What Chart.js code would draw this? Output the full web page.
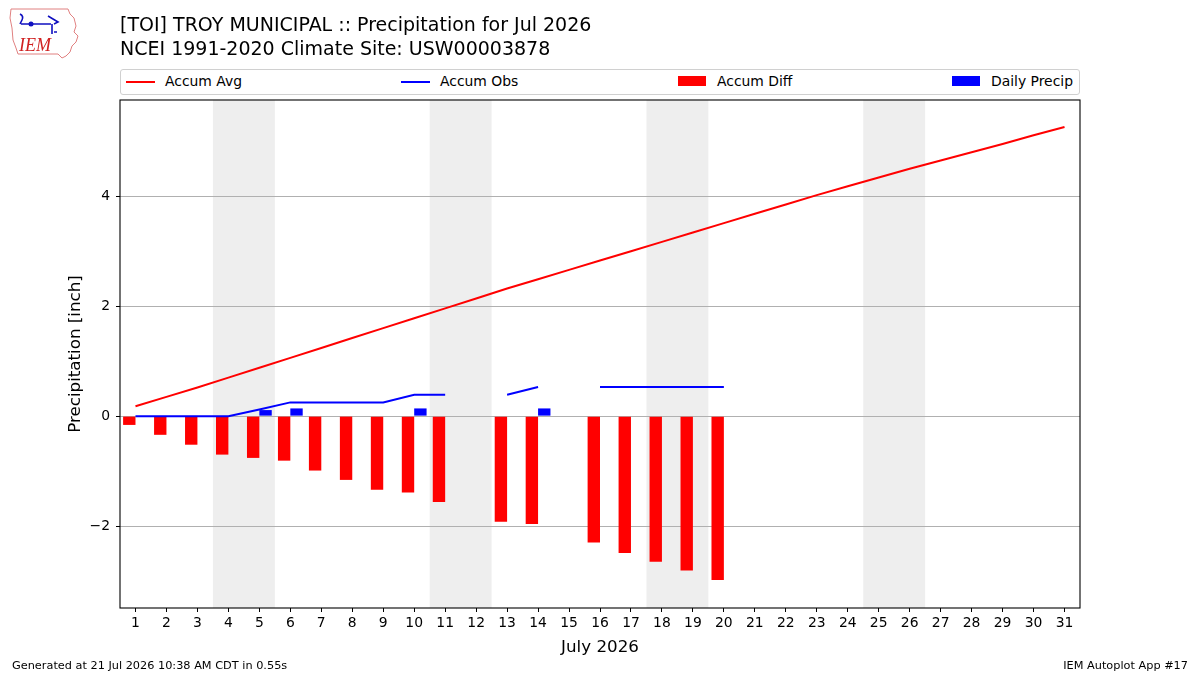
<!DOCTYPE html>
<html><head><meta charset="utf-8">
<script src="https://cdn.jsdelivr.net/npm/chart.js@4.4.1/dist/chart.umd.min.js"></script>
<style>
body{margin:0;background:#fff;font-family:"DejaVu Sans",sans-serif;}
#wrap{position:relative;width:1200px;height:675px;overflow:hidden;background:#fff}
canvas{position:absolute;left:0;top:0}
.t{position:absolute;white-space:nowrap;color:#000;line-height:1}
#legend{position:absolute;left:120px;top:69px;width:958px;height:24px;border:1px solid #d0d0d0;border-radius:3px;background:#fff}
.sw{position:absolute}
</style></head><body>
<div id="wrap">
<canvas id="c" width="1200" height="675"></canvas>
<svg style="position:absolute;left:8px;top:6px" width="74" height="54" viewBox="0 0 74 54">
  <path d="M3,3 L60,3 L62,8 L66,12 L68,20 L66,26 L70,30 L68,36 L64,40 L62,46 L58,50 L54,52 L50,48 L10,48 L8,42 L5,34 L4,22 L2,12 Z" fill="none" stroke="#e08080" stroke-width="1"/>
  <path d="M12,8 q4,2 2,6 M14,14 l-2,4 M13,18 h30 M40,10 l10,6 l-4,2 M44,18 v10 M46,26 h3" fill="none" stroke="#1010c0" stroke-width="1.6"/>
  <circle cx="23" cy="18" r="2.5" fill="#1010c0"/>
  <text x="11" y="45" font-family="Liberation Serif,serif" font-style="italic" font-size="18" fill="#d02020">IEM</text>
</svg>
<div class="t" style="left:120px;top:15px;font-size:19px">[TOI] TROY MUNICIPAL :: Precipitation for Jul 2026</div>
<div class="t" style="left:120px;top:39px;font-size:19px">NCEI 1991-2020 Climate Site: USW00003878</div>
<div id="legend">
  <div class="sw" style="left:5px;top:11px;width:29px;height:2px;background:#ff0000"></div>
  <div class="t" style="left:44px;top:5px;font-size:13.9px">Accum Avg</div>
  <div class="sw" style="left:280px;top:11px;width:29px;height:2px;background:#0000ff"></div>
  <div class="t" style="left:319px;top:5px;font-size:13.9px">Accum Obs</div>
  <div class="sw" style="left:557px;top:6px;width:28px;height:10px;background:#ff0000"></div>
  <div class="t" style="left:596px;top:5px;font-size:13.9px">Accum Diff</div>
  <div class="sw" style="left:831px;top:6px;width:28px;height:10px;background:#0000ff"></div>
  <div class="t" style="left:870px;top:5px;font-size:13.9px">Daily Precip</div>
</div>
<div class="t" style="left:12px;top:660px;font-size:11.3px">Generated at 21 Jul 2026 10:38 AM CDT in 0.55s</div>
<div class="t" style="right:12px;top:660px;font-size:11.3px">IEM Autoplot App #17</div>
</div>
<script>
const days = [1,2,3,4,5,6,7,8,9,10,11,12,13,14,15,16,17,18,19,20,21,22,23,24,25,26,27,28,29,30,31];
const accumAvg = [0.18,0.35,0.52,0.70,0.88,1.06,1.24,1.42,1.60,1.78,1.96,2.14,2.32,2.49,2.66,2.83,3.00,3.17,3.34,3.51,3.68,3.85,4.02,4.18,4.34,4.50,4.65,4.80,4.95,5.11,5.26];
const accumObs = [0,0,0,0,0.12,0.25,0.25,0.25,0.25,0.39,0.39,null,0.39,0.53,null,0.53,0.53,0.53,0.53,0.53,null,null,null,null,null,null,null,null,null,null,null];
const accumDiff = [-0.16,-0.34,-0.52,-0.70,-0.76,-0.81,-0.99,-1.16,-1.34,-1.39,-1.56,null,-1.92,-1.96,null,-2.30,-2.49,-2.65,-2.81,-2.98,null,null,null,null,null,null,null,null,null,null,null];
const dailyPrecip = [0,0,0,0,0.11,0.14,0,0,0,0.14,0,null,0,0.14,null,0,0,0,0,0,null,null,null,null,null,null,null,null,null,null,null];
const weekendDays = [4,5,11,12,18,19,25,26];
const yTicks = [-2,0,2,4];
const xTitle = 'July 2026';
const yTitle = 'Precipitation [inch]';

const pts = arr => days.map((d,i)=>({x:d, y:arr[i]}));

const shade = {
  id:'shade',
  beforeDraw(chart){
    const {ctx, chartArea:a, scales:{x}} = chart;
    ctx.save();
    ctx.beginPath(); ctx.rect(a.left,a.top,a.right-a.left,a.bottom-a.top); ctx.clip();
    ctx.fillStyle = '#eeeeee';
    ctx.beginPath();
    weekendDays.forEach(d=>{
      const x0 = x.getPixelForValue(d-0.5), x1 = x.getPixelForValue(d+0.5);
      ctx.rect(x0, a.top, x1-x0, a.bottom-a.top);
    });
    ctx.fill('nonzero');
    ctx.restore();
  }
};
const frame = {
  id:'frame',
  afterDraw(chart){
    const {ctx, chartArea:a} = chart;
    ctx.save();
    ctx.strokeStyle='#000'; ctx.lineWidth=1.1;
    ctx.strokeRect(a.left, a.top, a.right-a.left, a.bottom-a.top);
    ctx.restore();
  }
};

Chart.defaults.font.family = '"DejaVu Sans", sans-serif';
Chart.defaults.color = '#000';

new Chart(document.getElementById('c'), {
  data:{
    datasets:[
      {type:'line', label:'Accum Avg', data:pts(accumAvg), borderColor:'#ff0000', borderWidth:2, pointRadius:0, order:1},
      {type:'line', label:'Accum Obs', data:pts(accumObs), borderColor:'#0000ff', borderWidth:2, pointRadius:0, spanGaps:false, order:0},
      {type:'bar', label:'Accum Diff', data:pts(accumDiff), backgroundColor:'#ff0000', borderWidth:0, categoryPercentage:0.8, barPercentage:1.0, order:2},
      {type:'bar', label:'Daily Precip', data:pts(dailyPrecip), backgroundColor:'#0000ff', borderWidth:0, categoryPercentage:0.8, barPercentage:1.0, order:3}
    ]
  },
  options:{
    responsive:false, animation:false, devicePixelRatio:1,
    layout:{padding:{left:62, right:120, top:100, bottom:17}},
    plugins:{legend:{display:false}, tooltip:{enabled:false}, title:{display:false}},
    scales:{
      x:{type:'linear', min:0.5, max:31.5, offset:false,
        afterBuildTicks(s){ s.ticks = days.map(v=>({value:v})); },
        afterFit(s){ s.height = 50; },
        grid:{drawOnChartArea:false, offset:false, tickLength:4, tickColor:'#000', tickWidth:1},
        border:{display:false},
        ticks:{font:{size:13.9}, padding:3, maxRotation:0, autoSkip:false, color:'#000'},
        title:{display:true, text:xTitle, font:{size:16.7}, padding:{top:4,bottom:0}, color:'#000'}
      },
      y:{type:'linear', min:-3.49, max:5.75,
        afterBuildTicks(s){ s.ticks = yTicks.map(v=>({value:v})); },
        afterFit(s){ s.width = 58; },
        grid:{color:'#b0b0b0', lineWidth:1, tickLength:4, tickColor:'#000', drawTicks:true},
        border:{display:false},
        ticks:{font:{size:13.9}, padding:6, color:'#000', callback:v=> v<0 ? '\u2212'+Math.abs(v) : String(v)},
        title:{display:true, text:yTitle, font:{size:16.7}, padding:{top:4,bottom:0}, color:'#000'}
      }
    }
  },
  plugins:[shade, frame]
});
</script>
</body></html>
